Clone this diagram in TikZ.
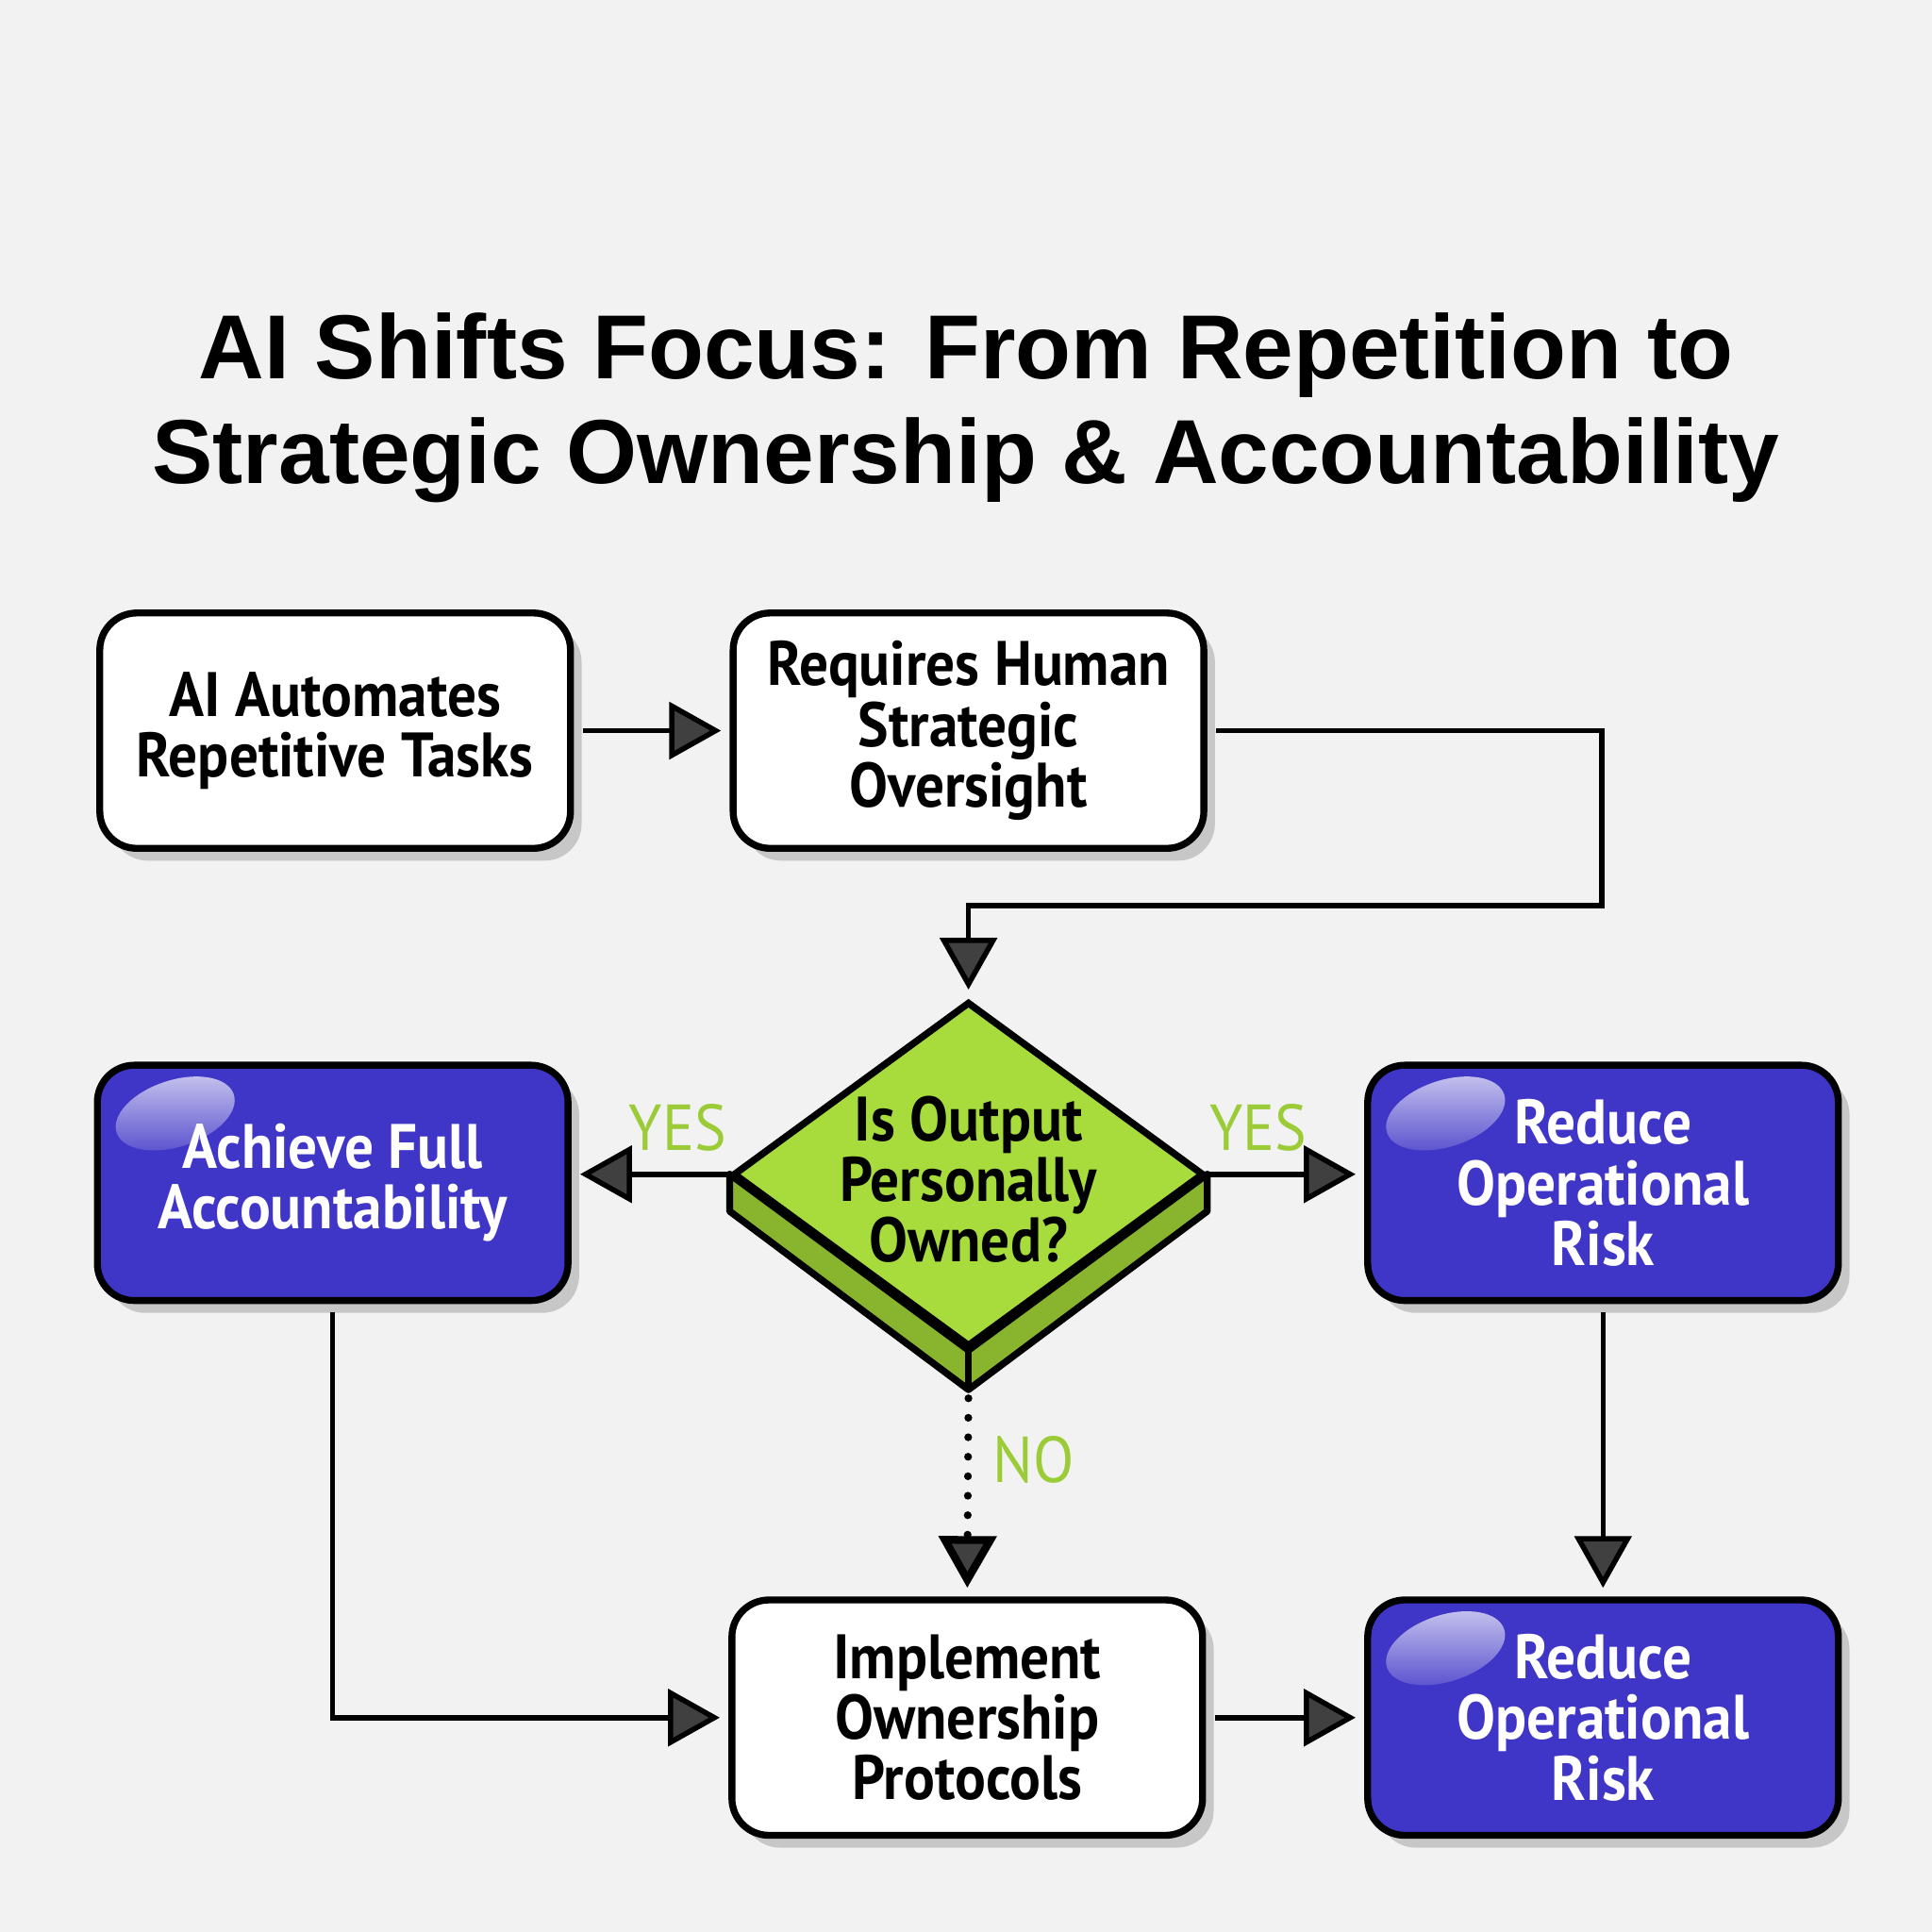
\documentclass[tikz,border=0pt]{standalone}
\usepackage{fontspec}
\setmainfont{PT Sans}[FakeStretch=0.92]
\newfontfamily\titlefont{Liberation Sans}
\usetikzlibrary{arrows.meta,shapes.geometric,shadows,calc}
\definecolor{paper}{RGB}{242,242,242}
\definecolor{riskblue}{RGB}{63,53,198}
\definecolor{ownlime}{RGB}{168,220,60}
\definecolor{ownlimedark}{RGB}{136,180,46}
\definecolor{yesgreen}{RGB}{155,204,55}
\def\boxwidth{3.82cm}
\def\boxheight{1.91cm}

\begin{document}
\begin{tikzpicture}[line width=1.2pt, >={Triangle[length=0.42cm,width=0.46cm,fill=black!75]}]
    \tikzstyle{every node}=[font=\bfseries\fontsize{14.5}{14}\selectfont]
    \tikzstyle{card}=[rectangle, rounded corners=0.3cm, draw=black, line width=1.6pt,
        minimum width=\boxwidth, minimum height=\boxheight, align=center,
        drop shadow={shadow xshift=0.09cm, shadow yshift=-0.1cm, fill=black!22, opacity=1}]
    \tikzstyle{plain card}=[card, fill=white]
    \tikzstyle{blue card}=[card, fill=riskblue]
    \tikzstyle{blue text}=[text=white, align=center]
    \tikzstyle{answer}=[text=yesgreen, font=\fontsize{15}{15}\selectfont]
    \tikzstyle{flow}=[->, shorten >=2pt, shorten <=2pt]

    \fill[paper] (0,0) rectangle (15.68,-15.68);
    \useasboundingbox (0,0) rectangle (15.68,-15.68);

    \node[align=center, font=\titlefont\bfseries\fontsize{21}{24.2}\selectfont] (title) at (7.84,-3.31)
        {AI Shifts Focus: From Repetition to\\Strategic Ownership \& Accountability};

    % Top row
    \node[plain card] (A) at (2.72,-5.93) {AI Automates\\Repetitive Tasks};
    \node[plain card] (B) at (7.86,-5.93) {Requires Human\\Strategic\\Oversight};

    % Decision
    \node[diamond, draw, fill=ownlime, line width=1.6pt, minimum width=3.82cm,
        minimum height=2.8cm, inner sep=0pt] (Q) at (7.86,-9.53) {};
    \filldraw[fill=ownlimedark, line width=1.6pt, line join=round]
        (Q.west) -- (Q.south) -- (Q.east) -- ($(Q.east)+(0,-0.3)$)
        -- ($(Q.south)+(0,-0.32)$) -- ($(Q.west)+(0,-0.3)$) -- cycle;
    \coordinate (qb) at ($(Q.south)+(0,-0.32)$);
    \draw[line width=1.6pt] (Q.south) -- (qb);
    \node[align=center] (Qtext) at ($(Q.center)+(0,-0.04)$) {Is Output\\Personally\\Owned?};

    % Middle and bottom rows
    \node[blue card] (C) at (2.70,-9.60) {};
    \node[blue card] (D) at (13.01,-9.60) {};
    \node[plain card] (E) at (7.85,-13.94) {Implement\\Ownership\\Protocols};
    \node[blue card] (F) at (13.01,-13.94) {};

    % Gloss on the blue cards
    \foreach \n in {C,D,F}{
        \begin{scope}[shift={($(\n.north west)+(0.66,-0.42)$)}, rotate=18]
            \shade[top color=white!72!riskblue, bottom color=white!12!riskblue]
                (0,0) ellipse (0.5cm and 0.27cm);
        \end{scope}
    }
    \node[blue text] (Ctext) at (C) {Achieve Full\\Accountability};
    \node[blue text] (Dtext) at (D) {Reduce\\Operational\\Risk};
    \node[blue text] (Ftext) at (F) {Reduce\\Operational\\Risk};

    % Connectors
    \coordinate (bend) at (13.0,-7.35);
    \draw[flow] (A.east) -- (B.west);
    \draw[flow] (B.east) -| (bend) -| (Q.north);
    \draw[flow, shorten <=0pt] (Q.west) -- (C.east |- Q.west);
    \draw[flow, shorten <=0pt] (Q.east) -- (D.west |- Q.east);
    \draw[flow, dash pattern=on 0pt off 4.5pt, line cap=round, line width=1.8pt] (qb) -- (E.north);
    \draw[flow] (C.south) |- (E.west);
    \draw[flow] (D.south) -- (F.north);
    \draw[flow] (E.east) -- (F.west);

    % Answers
    \node[answer] (yesleft) at (5.50,-9.15) {YES};
    \node[answer] (yesright) at (10.21,-9.15) {YES};
    \node[answer] (no) at (8.39,-11.85) {NO};
\end{tikzpicture}
\end{document}
